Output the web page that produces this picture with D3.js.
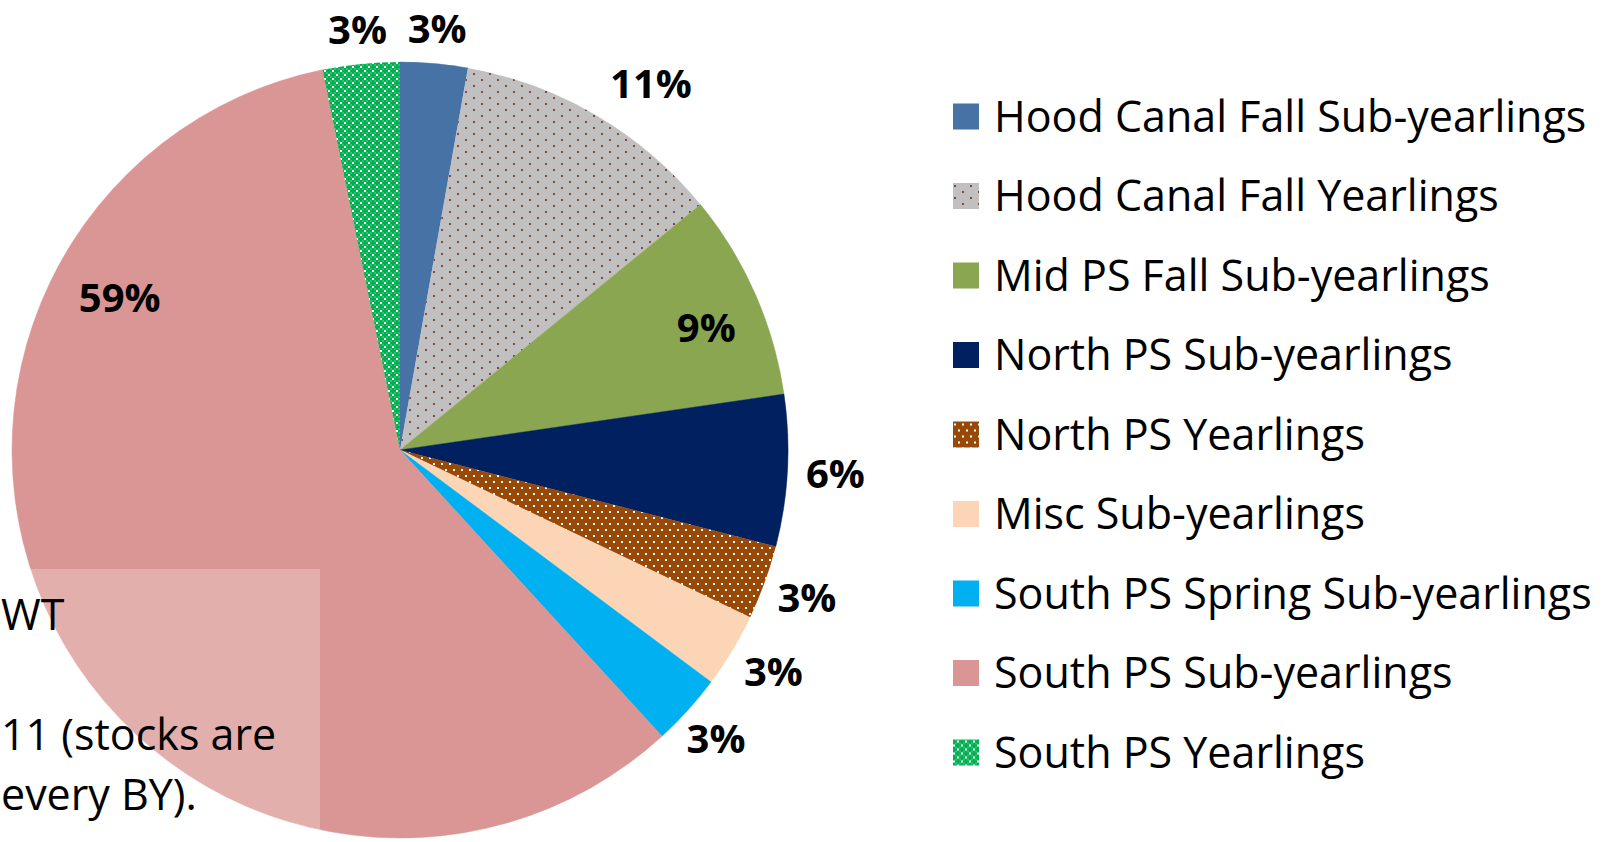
<!DOCTYPE html>
<html>
<head>
<meta charset="utf-8">
<script src="https://cdn.jsdelivr.net/npm/d3@7"></script>
<style>
  html, body { margin: 0; padding: 0; background: #fff; }
  svg { display: block; }
  text { font-family: "Open Sans", "Noto Sans", sans-serif; }
</style>
</head>
<body>
<svg id="chart" width="1604" height="842"></svg>
<script>
// ---- Data ----
const categories = [
  "Hood Canal Fall Sub-yearlings",
  "Hood Canal Fall Yearlings",
  "Mid PS Fall Sub-yearlings",
  "North PS Sub-yearlings",
  "North PS Yearlings",
  "Misc Sub-yearlings",
  "South PS Spring Sub-yearlings",
  "South PS Sub-yearlings",
  "South PS Yearlings"
];
const shares = [2.8, 11.3, 8.6, 6.3, 3.1, 3.1, 3.0, 58.6, 3.2];
const noteLines = ["WT", "", "11 (stocks are", "every BY)."];

// ---- Styles ----
const fills = [
  "#4672A6",
  "url(#pGray)",
  "#8BA650",
  "#002060",
  "url(#pBrown)",
  "#FBD5B5",
  "#00B0F0",
  "#D99694",
  "url(#pGreen)"
];

const svg = d3.select("#chart");
const defs = svg.append("defs");

// gray with dark-red dots
const pg = defs.append("pattern").attr("id", "pGray").attr("patternUnits", "userSpaceOnUse")
  .attr("width", 16).attr("height", 12);
pg.append("rect").attr("width", 16).attr("height", 12).attr("fill", "#C0C0C0");
[[1, 1], [9, 7]].forEach(([x, y]) =>
  pg.append("rect").attr("x", x).attr("y", y).attr("width", 2).attr("height", 2).attr("fill", "#8A4545"));

// brown with white dots
const pb = defs.append("pattern").attr("id", "pBrown").attr("patternUnits", "userSpaceOnUse")
  .attr("width", 8).attr("height", 12);
pb.append("rect").attr("width", 8).attr("height", 12).attr("fill", "#984807");
[[1, 1], [5, 7]].forEach(([x, y]) =>
  pb.append("rect").attr("x", x).attr("y", y).attr("width", 2).attr("height", 2).attr("fill", "#FFFFFF"));

// green with white diamond lattice
const pn = defs.append("pattern").attr("id", "pGreen").attr("patternUnits", "userSpaceOnUse")
  .attr("width", 8).attr("height", 8);
pn.append("rect").attr("width", 8).attr("height", 8).attr("fill", "#00B050");
[[0, 0], [4, 4]].forEach(([x, y]) =>
  pn.append("rect").attr("x", x).attr("y", y).attr("width", 2).attr("height", 2).attr("fill", "#FFFFFF"));
[[2, 2], [6, 6], [2, 6], [6, 2]].forEach(([x, y]) =>
  pn.append("rect").attr("x", x + 0.5).attr("y", y + 0.5).attr("width", 1).attr("height", 1).attr("fill", "#CFF0DC"));

// ---- Pie ----
const cx = 400, cy = 450, R = 388;
const data = categories.map((c, i) => ({ name: c, value: shares[i], fill: fills[i] }));
const total = d3.sum(shares);
const pie = d3.pie().value(d => d.value).sort(null).startAngle(0).endAngle(2 * Math.PI);
const arcs = pie(data);
const arc = d3.arc().innerRadius(0).outerRadius(R);

const g = svg.append("g").attr("transform", `translate(${cx},${cy})`);
g.selectAll("path.slice").data(arcs).enter().append("path")
  .attr("class", "slice")
  .attr("d", arc)
  .attr("fill", d => d.data.fill)
  .attr("stroke", d => d.data.fill.startsWith("#") ? d.data.fill : "none")
  .attr("stroke-width", 0.5);

// label placement (radius in px, angular offset in degrees from slice middle)
const labelLayout = [
  { r: 423, da: 0 },
  { r: 444, da: 4 },
  { r: 330, da: 1.9 },
  { r: 436, da: 0 },
  { r: 433, da: 0 },
  { r: 434, da: -0.5 },
  { r: 428, da: 0.3 },
  { r: 319, da: 55.5 },
  { r: 423, da: 0 }
];
g.selectAll("text.lbl").data(arcs).enter().append("text")
  .attr("class", "lbl")
  .attr("transform", (d, i) => {
    const a = (d.startAngle + d.endAngle) / 2 + labelLayout[i].da * Math.PI / 180;
    const r = labelLayout[i].r;
    return `translate(${r * Math.sin(a)},${-r * Math.cos(a)})`;
  })
  .attr("text-anchor", "middle")
  .attr("dy", "0.36em")
  .attr("font-size", 40)
  .attr("font-weight", 700)
  .attr("fill", "#000")
  .text(d => Math.round(d.data.value / total * 100) + "%");

// ---- Note box (at the left edge) ----
svg.append("rect")
  .attr("x", -10).attr("y", 569).attr("width", 330).attr("height", 290)
  .attr("fill", "#FFFFFF").attr("fill-opacity", 0.24);
const noteY = d3.scaleLinear().domain([0, 3]).range([630, 810]);
svg.selectAll("text.note").data(noteLines).enter().append("text")
  .attr("class", "note")
  .attr("x", 1)
  .attr("y", (d, i) => noteY(i))
  .attr("text-anchor", "start")
  .attr("font-size", 43)
  .attr("fill", "#000")
  .text(d => d);

// ---- Legend ----
const legY = d3.scalePoint().domain(categories).range([116.5, 752.5]);
const leg = svg.append("g");
const items = leg.selectAll("g").data(data).enter().append("g")
  .attr("transform", d => `translate(953,${legY(d.name)})`);
items.append("rect")
  .attr("x", 0).attr("y", -13).attr("width", 26).attr("height", 26)
  .attr("fill", d => d.fill);
items.append("text")
  .attr("x", 41).attr("y", 0).attr("dy", "0.36em")
  .attr("font-size", 43)
  .attr("fill", "#000")
  .text(d => d.name);
</script>
</body>
</html>
